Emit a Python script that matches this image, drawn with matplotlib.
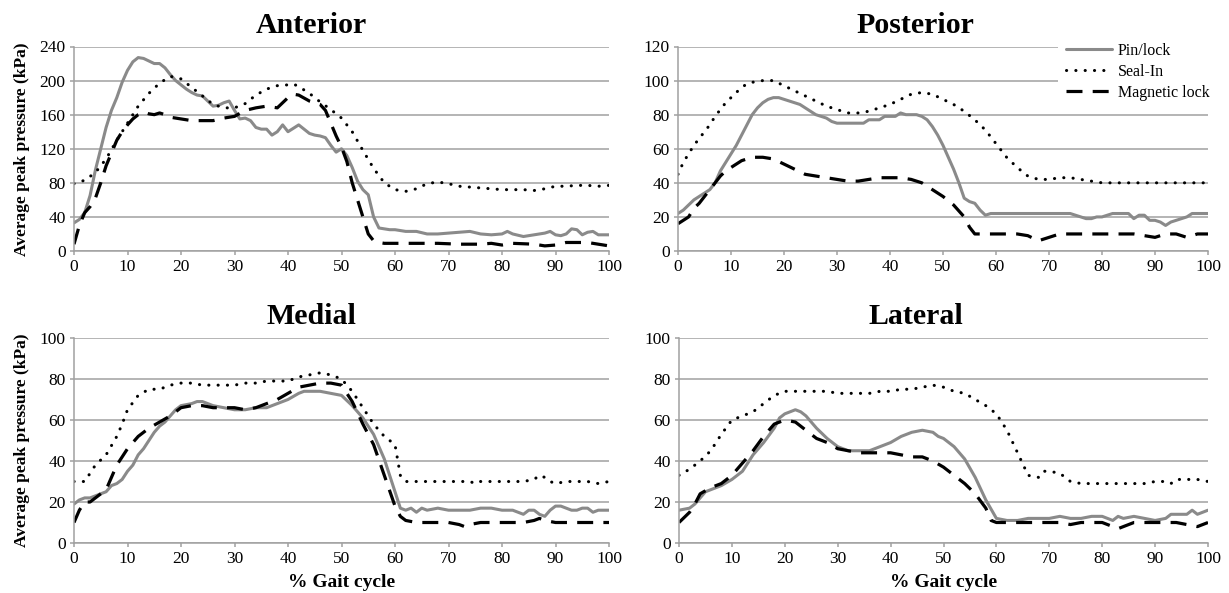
import matplotlib
matplotlib.use("Agg")
from matplotlib import pyplot as plt

plt.rcParams['font.family'] = ['Liberation Serif', 'DejaVu Serif']

# ---- Anterior ----
ant_pin_x = [0, 1, 2, 3, 4, 5, 6, 7, 8, 9, 10, 11, 12, 13, 14, 15, 16, 17, 18, 19, 20, 21, 22, 23, 24, 25, 26,
             27, 28, 29, 30, 31, 32, 33, 34, 35, 36, 37, 38, 39, 40, 41, 42, 43, 44, 45, 46, 47, 48, 49, 50, 51,
             52, 53, 54, 55, 56, 57, 58, 59, 60, 62, 64, 66, 68, 70, 72, 74, 76, 78, 80, 81, 82, 84, 86, 88, 89,
             90, 91, 92, 93, 94, 95, 96, 97, 98, 100]
ant_pin_y = [33, 37, 45, 65, 95, 120, 145, 165, 180, 198, 212, 222, 227, 226, 223, 220, 220, 215, 207, 200, 195,
             190, 186, 183, 182, 176, 170, 171, 174, 176, 165, 155, 156, 153, 145, 143, 143, 136, 140, 148, 140,
             144, 148, 143, 138, 136, 135, 133, 124, 116, 120, 112, 98, 82, 72, 66, 40, 27, 26, 25, 25, 23, 23,
             20, 20, 21, 22, 23, 20, 19, 20, 23, 20, 17, 19, 21, 23, 19, 18, 20, 26, 25, 19, 22, 23, 19, 19]
ant_seal_x = [0, 2, 4, 6, 8, 10, 12, 14, 16, 18, 20, 22, 24, 26, 28, 30, 32, 34, 36, 38, 40, 41, 42, 44, 46, 48,
              50, 52, 54, 56, 58, 60, 62, 64, 66, 68, 70, 72, 74, 76, 78, 80, 82, 84, 86, 88, 90, 92, 94, 96, 98,
              100]
ant_seal_y = [79, 83, 92, 108, 130, 150, 170, 185, 197, 205, 202, 192, 182, 172, 168, 168, 173, 183, 190, 194,
              195, 196, 193, 185, 175, 166, 156, 140, 118, 97, 80, 72, 70, 73, 79, 81, 79, 76, 75, 74, 73, 72, 72,
              72, 71, 73, 76, 76, 77, 77, 76, 77]
ant_mag_x = [0, 1, 2, 3, 4, 5, 6, 7, 8, 9, 10, 11, 12, 13, 14, 15, 16, 17, 18, 20, 22, 24, 26, 28, 30, 32, 34, 36,
             38, 40, 41, 42, 44, 46, 47, 48, 49, 50, 51, 52, 53, 54, 55, 56, 57, 58, 60, 64, 68, 72, 76, 78, 80,
             82, 86, 88, 90, 92, 96, 98, 100]
ant_mag_y = [8, 30, 45, 52, 62, 80, 100, 115, 130, 140, 148, 155, 160, 163, 161, 160, 162, 160, 157, 155, 153, 153,
             153, 156, 158, 165, 168, 170, 168, 180, 184, 183, 176, 172, 165, 150, 135, 122, 105, 80, 60, 40, 20,
             12, 10, 9, 9, 9, 9, 8, 8, 9, 7, 9, 8, 6, 7, 10, 10, 8, 6]

# ---- Posterior ----
post_pin_x = [0, 1, 2, 3, 4, 5, 6, 7, 8, 9, 10, 11, 12, 13, 14, 15, 16, 17, 18, 19, 20, 21, 22, 23, 24, 25, 26,
              27, 28, 29, 30, 31, 32, 33, 34, 35, 36, 37, 38, 39, 40, 41, 42, 43, 44, 45, 46, 47, 48, 49, 50, 51,
              52, 53, 54, 55, 56, 57, 58, 59, 60, 62, 64, 66, 68, 70, 72, 74, 75, 76, 77, 78, 79, 80, 81, 82, 84,
              85, 86, 87, 88, 89, 90, 91, 92, 93, 94, 95, 96, 97, 98, 100]
post_pin_y = [22, 24, 27, 30, 32, 34, 36, 40, 47, 52, 57, 62, 68, 74, 80, 84, 87, 89, 90, 90, 89, 88, 87, 86, 84,
              82, 80, 79, 78, 76, 75, 75, 75, 75, 75, 75, 77, 77, 77, 79, 79, 79, 81, 80, 80, 80, 79, 77, 73, 68,
              62, 55, 48, 40, 31, 29, 28, 24, 21, 22, 22, 22, 22, 22, 22, 22, 22, 22, 21, 20, 19, 19, 20, 20, 21,
              22, 22, 22, 19, 21, 21, 18, 18, 17, 15, 17, 18, 19, 20, 22, 22, 22]
post_seal_x = [0, 1, 2, 3, 4, 5, 6, 7, 8, 9, 10, 11, 12, 13, 14, 16, 18, 20, 22, 24, 26, 28, 30, 32, 34, 36, 38,
               40, 42, 44, 46, 48, 50, 52, 54, 56, 58, 60, 62, 64, 66, 68, 70, 72, 74, 76, 78, 80, 85, 90, 95, 100]
post_seal_y = [45, 52, 57, 62, 66, 70, 74, 79, 83, 87, 90, 93, 96, 98, 99, 100, 100, 97, 94, 91, 88, 85, 83, 81,
               81, 82, 84, 86, 89, 92, 93, 92, 89, 86, 82, 77, 71, 63, 55, 49, 44, 42, 42, 43, 43, 42, 41, 40, 40,
               40, 40, 40]
post_mag_x = [0, 1, 2, 3, 4, 5, 6, 7, 8, 9, 10, 11, 12, 13, 14, 16, 18, 20, 22, 24, 26, 28, 30, 32, 34, 36, 38,
              40, 42, 44, 46, 48, 50, 52, 54, 55, 56, 58, 60, 62, 64, 66, 68, 70, 72, 76, 80, 84, 86, 88, 90, 92,
              94, 96, 98, 100]
post_mag_y = [16, 18, 20, 25, 28, 32, 36, 40, 44, 47, 49, 51, 53, 54, 55, 55, 54, 51, 48, 45, 44, 43, 42, 41, 41,
              42, 43, 43, 43, 42, 40, 36, 32, 27, 20, 14, 10, 10, 10, 10, 10, 9, 6, 8, 10, 10, 10, 10, 10, 9, 8,
              10, 10, 8, 10, 10]

# ---- Medial ----
med_pin_x = [0, 1, 2, 3, 4, 5, 6, 7, 8, 9, 10, 11, 12, 13, 14, 15, 16, 17, 18, 19, 20, 22, 23, 24, 26, 28, 30,
             32, 34, 36, 38, 40, 42, 43, 44, 46, 48, 50, 52, 54, 56, 58, 60, 61, 62, 63, 64, 65, 66, 68, 70, 72,
             74, 76, 78, 80, 82, 84, 85, 86, 87, 88, 89, 90, 91, 92, 93, 94, 95, 96, 97, 98, 100]
med_pin_y = [19, 21, 22, 22, 23, 24, 25, 28, 29, 31, 35, 38, 43, 46, 50, 54, 57, 59, 62, 65, 67, 68, 69, 69, 67,
             66, 65, 65, 66, 66, 68, 70, 73, 74, 74, 74, 73, 72, 67, 61, 53, 41, 25, 17, 16, 17, 15, 17, 16, 17,
             16, 16, 16, 17, 17, 16, 16, 14, 16, 16, 14, 13, 16, 18, 18, 17, 16, 16, 17, 17, 15, 16, 16]
med_seal_x = [0, 2, 4, 6, 8, 9, 10, 12, 14, 16, 18, 20, 22, 24, 26, 28, 30, 32, 34, 36, 38, 40, 42, 44, 46, 48,
              50, 52, 54, 56, 58, 60, 61, 62, 64, 66, 70, 74, 75, 76, 78, 80, 84, 86, 87, 88, 89, 90, 92, 96, 98,
              100]
med_seal_y = [30, 30, 38, 43, 52, 58, 65, 72, 75, 75, 77, 78, 78, 77, 77, 77, 77, 78, 78, 79, 79, 79, 81, 82, 83,
              82, 80, 74, 66, 58, 52, 48, 33, 30, 30, 30, 30, 30, 29, 30, 30, 30, 30, 31, 33, 32, 30, 29, 30, 30,
              29, 30]
med_mag_x = [0, 1, 2, 3, 4, 6, 7, 8, 9, 10, 12, 14, 16, 18, 20, 22, 24, 26, 28, 30, 32, 34, 36, 38, 40, 42, 44,
             46, 48, 50, 52, 54, 56, 58, 60, 61, 62, 64, 68, 70, 72, 73, 74, 76, 80, 84, 86, 87, 88, 90, 94, 96,
             100]
med_mag_y = [10, 16, 20, 20, 22, 26, 32, 38, 42, 46, 52, 56, 59, 62, 66, 67, 67, 66, 66, 66, 65, 66, 68, 70, 73,
             76, 77, 78, 78, 77, 69, 58, 48, 33, 18, 13, 11, 10, 10, 10, 9, 8, 9, 10, 10, 10, 11, 12, 11, 10, 10,
             10, 10]

# ---- Lateral ----
lat_pin_x = [0, 2, 3, 4, 5, 6, 8, 10, 12, 14, 16, 18, 19, 20, 21, 22, 23, 24, 26, 28, 30, 32, 34, 36, 38, 40, 42,
             44, 46, 48, 49, 50, 52, 54, 56, 58, 60, 62, 64, 66, 68, 70, 72, 74, 76, 78, 80, 82, 83, 84, 86, 88,
             90, 92, 93, 96, 97, 98, 100]
lat_pin_y = [16, 17, 19, 22, 25, 26, 28, 31, 35, 43, 49, 56, 61, 63, 64, 65, 64, 62, 56, 51, 47, 45, 45, 45, 47,
             49, 52, 54, 55, 54, 52, 51, 47, 41, 32, 21, 12, 11, 11, 12, 12, 12, 13, 12, 12, 13, 13, 11, 13, 12,
             13, 12, 11, 12, 14, 14, 16, 14, 16]
lat_seal_x = [0, 2, 4, 6, 8, 10, 12, 14, 16, 18, 20, 22, 24, 26, 28, 30, 32, 34, 36, 38, 40, 42, 44, 46, 48, 50,
              52, 54, 56, 58, 60, 62, 64, 66, 68, 69, 70, 72, 74, 76, 80, 86, 88, 90, 92, 93, 94, 96, 98, 100]
lat_seal_y = [33, 36, 40, 45, 53, 60, 62, 64, 68, 72, 74, 74, 74, 74, 74, 73, 73, 73, 73, 74, 74, 75, 75, 76, 77,
              76, 74, 73, 70, 67, 63, 55, 44, 33, 32, 35, 35, 34, 30, 29, 29, 29, 29, 30, 30, 29, 31, 31, 31, 30]
lat_mag_x = [0, 2, 3, 4, 6, 8, 10, 12, 14, 16, 18, 20, 22, 24, 26, 28, 30, 32, 34, 36, 38, 40, 42, 44, 46, 48, 50,
             52, 54, 56, 58, 59, 60, 62, 66, 70, 72, 74, 76, 80, 82, 83, 84, 86, 88, 90, 94, 96, 98, 100]
lat_mag_y = [10, 15, 19, 24, 27, 29, 33, 39, 45, 52, 58, 60, 59, 55, 51, 49, 46, 45, 44, 44, 44, 44, 43, 42, 42,
             40, 37, 33, 29, 24, 17, 11, 10, 10, 10, 10, 10, 9, 10, 10, 8, 7, 8, 10, 10, 10, 10, 9, 8, 10]

series_names = ['Pin/lock', 'Seal-In', 'Magnetic lock']

panels = [
    ('Anterior', [(ant_pin_x, ant_pin_y), (ant_seal_x, ant_seal_y), (ant_mag_x, ant_mag_y)], 240, 40),
    ('Posterior', [(post_pin_x, post_pin_y), (post_seal_x, post_seal_y), (post_mag_x, post_mag_y)], 120, 20),
    ('Medial', [(med_pin_x, med_pin_y), (med_seal_x, med_seal_y), (med_mag_x, med_mag_y)], 100, 20),
    ('Lateral', [(lat_pin_x, lat_pin_y), (lat_seal_x, lat_seal_y), (lat_mag_x, lat_mag_y)], 100, 20),
]

styles = [
    dict(color='#8a8a8a', lw=2.2, ls='-', solid_capstyle='round', solid_joinstyle='round'),
    dict(color='black', lw=2.2, ls=(0, (0.05, 3.0)), dash_capstyle='round'),
    dict(color='black', lw=2.3, ls=(0, (5, 3.2)), dash_capstyle='butt'),
]

W, H = 1229, 593
fig = plt.figure(figsize=(W / 100, H / 100), dpi=100)

# axes boxes in pixels: left, top, right, bottom
boxes = [(74, 46.5, 609, 251), (678, 46.5, 1208, 251), (74, 338, 609, 543), (679, 338, 1208, 543)]
# titles sit over the middle of each half of the figure, not the axes
title_x = [0.443, 0.447, 0.443, 0.447]

grid_col = '#a0a0a0'
axes = []
for (title, data, ymax, ystep), (l, t, r, b), tx in zip(panels, boxes, title_x):
    ax = fig.add_axes([l / W, 1 - b / H, (r - l) / W, (b - t) / H])
    for (x, y), st, name in zip(data, styles, series_names):
        ax.plot(x, y, label=name, **st)
    ax.set_xlim(0, 100)
    ax.set_ylim(0, ymax)
    ax.set_xticks(range(0, 101, 10))
    ax.set_yticks(range(0, ymax + 1, ystep))
    ax.yaxis.grid(True, color=grid_col, lw=1.1)
    ax.set_axisbelow(True)
    for s in ['top', 'right']:
        ax.spines[s].set_visible(False)
    for s in ['left', 'bottom']:
        ax.spines[s].set_color(grid_col)
        ax.spines[s].set_linewidth(1.1)
    ax.tick_params(axis='both', colors=grid_col, labelcolor='black', labelsize=12.5, length=3, width=1.1)
    ax.tick_params(axis='x', pad=3)
    ax.tick_params(axis='y', pad=3)
    ax.set_title(title, fontsize=21.5, fontweight='bold', pad=10, x=tx)
    axes.append(ax)

for ax in (axes[0], axes[2]):
    ax.set_ylabel('Average peak pressure (kPa)', fontsize=12.5, fontweight='bold')
    ax.yaxis.set_label_coords(-0.082, 0.5)
for ax in (axes[2], axes[3]):
    ax.set_xlabel('% Gait cycle', fontsize=14, fontweight='bold')
    ax.xaxis.set_label_coords(0.5, -0.15)

leg = axes[1].legend(loc='upper left', bbox_to_anchor=(1058 / W, 1 - 35 / H), bbox_transform=fig.transFigure,
                     fontsize=11.5, frameon=True, facecolor='white', edgecolor='none', framealpha=1,
                     fancybox=False, handlelength=2.9, handletextpad=0.35, labelspacing=0.3,
                     borderaxespad=0, borderpad=0.5)

fig.savefig('out.png', dpi=100, facecolor='white')
